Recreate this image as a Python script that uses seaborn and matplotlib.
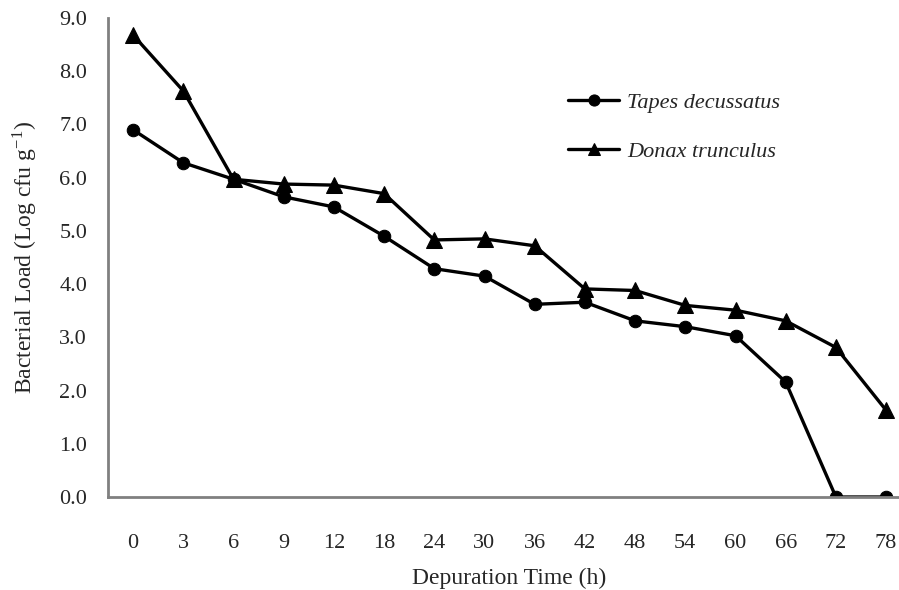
import numpy as np
import pandas as pd
import matplotlib
matplotlib.use("Agg")
import matplotlib.pyplot as plt
import seaborn as sns

# data
hours = ["0", "3", "6", "9", "12", "18", "24", "30", "36", "42", "48", "54", "60", "66", "72", "78"]
tapes = [6.90, 6.28, 5.97, 5.64, 5.45, 4.90, 4.29, 4.15, 3.62, 3.66, 3.31, 3.20, 3.03, 2.16, 0.0, 0.0]
donax = [8.68, 7.63, 5.97, 5.88, 5.86, 5.70, 4.83, 4.85, 4.72, 3.91, 3.88, 3.60, 3.51, 3.31, 2.81, 1.63]

sns.set_style("white")
plt.rcParams["font.family"] = ["Liberation Serif", "DejaVu Serif"]
plt.rcParams["mathtext.fontset"] = "stix"

pos = np.arange(len(hours))
df = pd.DataFrame({"pos": np.concatenate([pos, pos]),
                   "load": tapes + donax,
                   "species": ["Tapes decussatus"] * len(hours) + ["Donax trunculus"] * len(hours)})

fig = plt.figure(figsize=(8.99, 5.90), dpi=100)
ax = fig.add_axes([108 / 899, 93 / 590, 16 * 50.2 / 899, 479 / 590])

sns.lineplot(data=df, x="pos", y="load", hue="species", style="species",
             palette={"Tapes decussatus": "black", "Donax trunculus": "black"},
             markers={"Tapes decussatus": "o", "Donax trunculus": "^"},
             dashes=False, linewidth=2.4, markersize=9, markeredgecolor="black",
             ax=ax)
ax.lines[1].set_markersize(11)

ax.set_xlim(-0.5, len(hours) - 0.5)
ax.set_ylim(0, 9)
ax.set_xticks(pos)
ax.set_xticklabels(hours)
ax.set_xticks(np.arange(-0.5, len(hours)), minor=True)
ax.set_yticks(np.arange(0, 10))
ax.set_yticklabels([f"{v:.1f}" for v in range(10)])

ax.tick_params(axis="x", which="major", length=0, pad=27, labelsize=16)
ax.tick_params(axis="x", which="minor", length=5, width=2, color="#808080", direction="out")
ax.tick_params(axis="y", length=6, width=2, color="#808080", direction="out", pad=9, labelsize=16)

for side in ["top", "right"]:
    ax.spines[side].set_visible(False)
for side in ["left", "bottom"]:
    ax.spines[side].set_color("#808080")
    ax.spines[side].set_linewidth(2)

ax.set_xlabel("Depuration Time (h)", fontsize=17, labelpad=10)
ax.set_ylabel(r"Bacterial Load (Log cfu g$^{\mathregular{-1}}$)", fontsize=17, labelpad=14)

leg = ax.legend(loc="upper left", bbox_to_anchor=(557 / 899, 1 - 81 / 590),
                bbox_transform=fig.transFigure, frameon=False, borderpad=0,
                handlelength=2.3, labelspacing=1.3, handletextpad=0.35,
                prop={"style": "italic", "size": 16})
for h in leg.legend_handles:
    h.set_markersize(8)

fig.savefig("out.png", dpi=100)
